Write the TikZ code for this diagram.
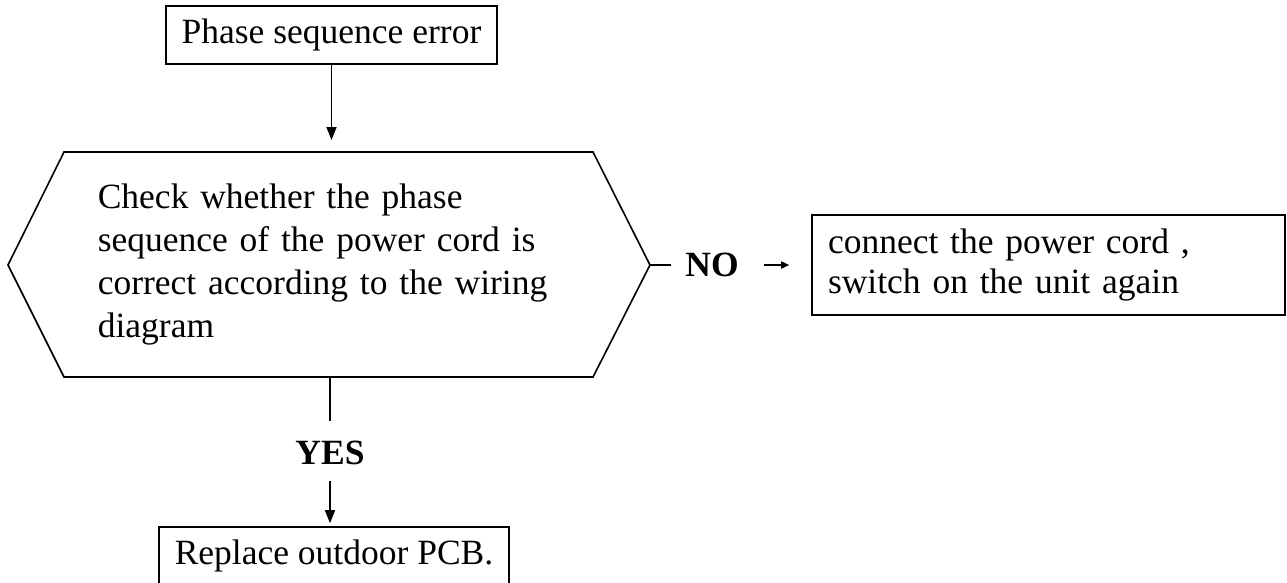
\documentclass[tikz,border=0pt]{standalone}
\usepackage{fontspec}
\setmainfont{Liberation Serif}
\usetikzlibrary{arrows.meta,positioning}

\begin{document}
\begin{tikzpicture}[x=1pt,y=-1pt,line width=1.6pt,
  box/.style={draw,inner sep=0pt,font=\fontsize{35.5}{40}\selectfont},
  lbl/.style={inner sep=0pt,font=\fontsize{35.5}{40}\selectfont\bfseries},
  arr/.style={-{Triangle[length=13pt,width=10pt]}},
  arrs/.style={-{Triangle[length=8pt,width=7pt]}}]
\useasboundingbox (0,0) rectangle (1287,582);
% ----- start -----
\node[box,minimum width=331pt,minimum height=58pt] (err) at (331.5,35) {Phase sequence error};
\coordinate (chkN) at (err.south |- 0,140);
\draw[arr] (err.south) -- (chkN);
% ----- check: hexagon -----
\draw (8,265) coordinate (chkW) -- (64,152) -- (593,152)
  -- (650,265) coordinate (chkE) -- (593,377) -- (64,377) -- cycle;
\coordinate (chkS) at (330,377);
\node[anchor=west,text width=530pt,align=left,inner sep=0pt,
  font=\fontsize{35.5}{43}\selectfont] (chk) at (97,265)
  {Check whether the phase\\ sequence of the power cord is\\ correct according to the wiring\\ diagram};
% ----- NO branch -----
\node[lbl] (no) at (712,265) {NO};
\node[box,minimum width=473pt,minimum height=100pt,text width=441pt,align=left] (fix) at (1048.5,265)
  {connect the power cord ,\\ switch on the unit again};
\draw[shorten >=14pt] (chkE) -- (no.west);
\draw[arrs,shorten <=25pt,shorten >=22pt] (no.east) -- (fix.west);
% ----- YES branch -----
\node[lbl] (yes) at (330,453) {YES};
\node[box,minimum width=350pt,minimum height=58pt] (pcb) at (334,556) {Replace outdoor PCB.};
\draw[shorten >=19pt] (chkS) -- (yes.north);
\draw[arr,shorten <=15pt,shorten >=3pt] (yes.south) -- (yes.south |- pcb.north);
\end{tikzpicture}
\end{document}
